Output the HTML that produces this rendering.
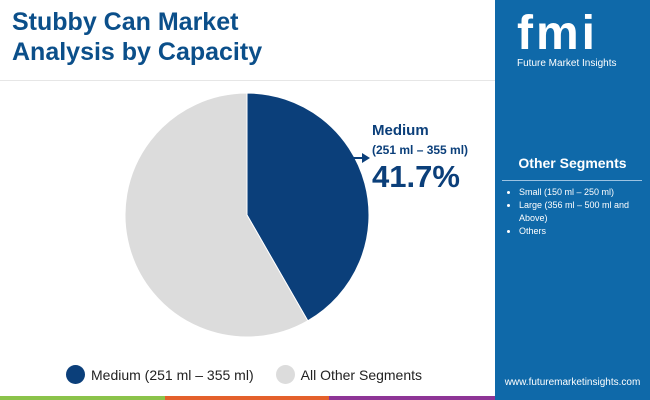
<!DOCTYPE html>
<html><head><meta charset="utf-8"><style>
body{margin:0;width:650px;height:400px;overflow:hidden;background:#fff;font-family:"Liberation Sans",sans-serif;position:relative}
.abs{position:absolute}
</style></head><body>
<div class="abs" style="left:12px;top:7px;font-size:25px;font-weight:bold;color:#0b4f8a;line-height:30px">Stubby Can Market<br>Analysis by Capacity</div>
<div class="abs" style="left:0;top:80px;width:495px;height:1px;background:#e6e6e6"></div>
<svg class="abs" style="left:0;top:0" width="495" height="400">
<g id="pie"></g>
<line x1="352" y1="158" x2="364" y2="158" stroke="#0b3f7a" stroke-width="2"/>
<polygon points="370,158 362,153 362,163" fill="#0b3f7a"/>
</svg>
<div class="abs" style="left:372px;top:122px;color:#0b3f7a;font-weight:bold">
<div style="font-size:15px">Medium</div>
<div style="font-size:12px;margin-top:4px">(251 ml – 355 ml)</div>
<div style="font-size:31px;margin-top:2px">41.7%</div></div>
<div class="abs" style="left:66px;top:365px;font-size:14px;color:#222;display:flex;align-items:center">
<span style="width:19px;height:19px;border-radius:50%;background:#0b3f7a;display:inline-block;margin-right:6px"></span>Medium (251 ml – 355 ml)
<span style="width:19px;height:19px;border-radius:50%;background:#dcdcdc;display:inline-block;margin:0 6px 0 22px"></span>All Other Segments</div>
<div class="abs" style="left:0;top:396px;width:165px;height:4px;background:#8bc34a"></div>
<div class="abs" style="left:165px;top:396px;width:164px;height:4px;background:#e4602b"></div>
<div class="abs" style="left:329px;top:396px;width:166px;height:4px;background:#8e3596"></div>
<div class="abs" style="left:495px;top:0;width:155px;height:400px;background:#0f69a9;color:#fff">
<div style="position:absolute;left:22px;top:6px;font-size:48px;font-weight:bold;letter-spacing:3px;font-family:'Liberation Sans',sans-serif">fmi</div>
<div style="position:absolute;left:22px;top:58px;font-size:10px">Future Market Insights</div>
<div style="position:absolute;left:0;width:155px;text-align:center;top:155px;font-size:14px;font-weight:bold">Other Segments</div>
<div style="position:absolute;left:7px;top:180px;width:140px;height:1px;background:#9cc3e2"></div>
<ul style="position:absolute;left:0;top:186px;margin:0;padding-left:24px;font-size:9px;line-height:13px;width:125px">
<li>Small (150 ml – 250 ml)</li><li>Large (356 ml – 500 ml and Above)</li><li>Others</li></ul>
<div style="position:absolute;left:0;width:155px;text-align:center;top:377px;font-size:10px">www.futuremarketinsights.com</div>
</div>
<script>
const categories=["Medium (251 ml – 355 ml)","All Other Segments"];
const values=[41.7,58.3];
const colors=["#0b3f7a","#dcdcdc"];
const cx=247,cy=215,r=122;
const g=document.getElementById('pie');
let tot=values.reduce((a,b)=>a+b,0),a0=0;
values.forEach((v,i)=>{
 const a1=a0+v/tot*2*Math.PI;
 const p=t=>[cx+r*Math.sin(t),cy-r*Math.cos(t)];
 const [x0,y0]=p(a0),[x1,y1]=p(a1);
 const el=document.createElementNS('http://www.w3.org/2000/svg','path');
 el.setAttribute('d',`M${cx},${cy}L${x0},${y0}A${r},${r} 0 ${a1-a0>Math.PI?1:0} 1 ${x1},${y1}Z`);
 el.setAttribute('fill',colors[i]);
 el.setAttribute('stroke','#fff');
 el.setAttribute('stroke-width','1');
 
 
 g.appendChild(el);a0=a1;
});
</script>
</body></html>
